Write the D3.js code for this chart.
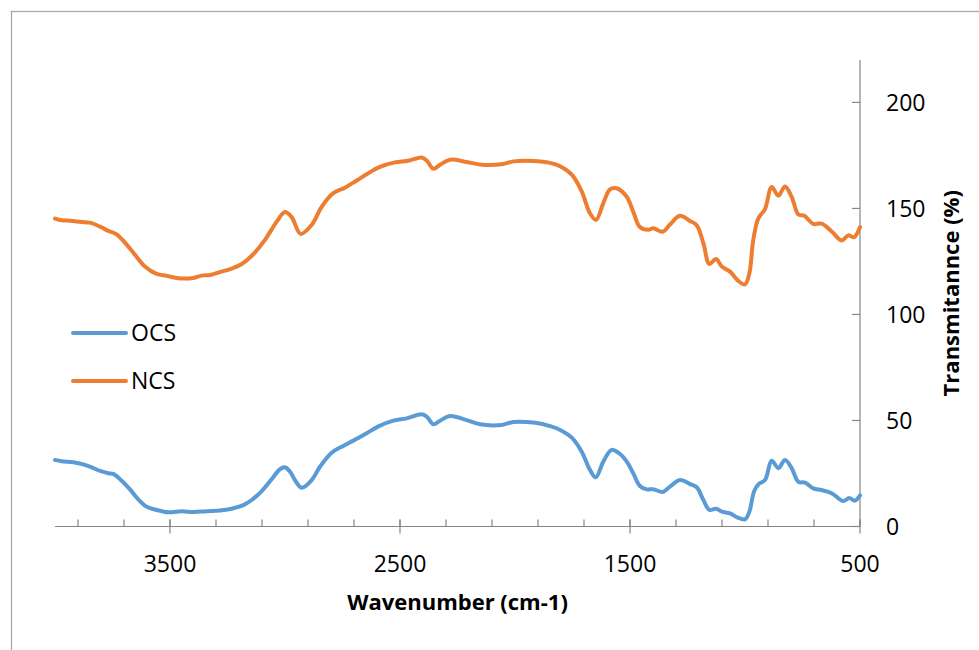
<!DOCTYPE html>
<html>
<head>
<meta charset="utf-8">
<script src="https://cdn.jsdelivr.net/npm/d3@7"></script>
<style>
  body { margin: 0; background: #fff; }
  text { font-family: "Open Sans", "Noto Sans", sans-serif; fill: #000; }
</style>
</head>
<body>
<div id="chart"></div>
<script>
// Data (wavenumber in cm-1, transmittance in %)
const ncsWave = [4000, 3971, 3935, 3884, 3848, 3804, 3768, 3732, 3696, 3652, 3609, 3558, 3514, 3464, 3399, 3362, 3326, 3283, 3225, 3188, 3138, 3087, 3036, 3000, 2971, 2932, 2884, 2840, 2790, 2739, 2688, 2638, 2590, 2522, 2464, 2406, 2384, 2355, 2326, 2283, 2210, 2145, 2051, 2007, 1920, 1848, 1804, 1753, 1710, 1674, 1648, 1616, 1587, 1558, 1515, 1486, 1457, 1420, 1399, 1358, 1326, 1283, 1239, 1210, 1181, 1155, 1126, 1101, 1065, 1029, 1000, 981, 964, 942, 913, 884, 855, 826, 797, 768, 743, 703, 667, 623, 580, 551, 526, 500];
const ncsT = [145.2, 144.4, 144.2, 143.6, 143.3, 141.4, 139.4, 137.8, 133.9, 128.1, 122.6, 119.1, 118.2, 117.1, 117.2, 118.3, 118.6, 120.0, 121.9, 123.8, 128.4, 135.2, 143.8, 148.3, 145.9, 138.0, 142.2, 150.9, 157.2, 159.8, 163.2, 166.6, 169.5, 171.7, 172.5, 174.0, 172.6, 168.7, 170.6, 173.0, 171.9, 170.6, 171.0, 172.2, 172.4, 171.5, 169.9, 165.9, 158.0, 147.7, 144.6, 152.5, 159.0, 159.5, 155.6, 148.5, 141.2, 139.9, 140.7, 139.0, 142.4, 146.5, 144.1, 142.1, 133.6, 123.8, 126.2, 122.6, 120.2, 115.8, 114.2, 119.4, 135.2, 145.3, 149.7, 160.1, 156.0, 160.4, 155.4, 147.1, 146.6, 142.7, 142.8, 139.1, 134.9, 137.3, 136.4, 141.2];

const ocsWave = [4000, 3971, 3920, 3877, 3840, 3804, 3768, 3747, 3710, 3674, 3638, 3601, 3558, 3507, 3449, 3399, 3340, 3283, 3232, 3181, 3145, 3101, 3058, 3022, 3000, 2978, 2952, 2927, 2884, 2848, 2797, 2747, 2703, 2645, 2594, 2529, 2471, 2406, 2384, 2355, 2326, 2283, 2210, 2152, 2058, 2007, 1920, 1840, 1797, 1753, 1710, 1674, 1649, 1616, 1580, 1551, 1514, 1486, 1457, 1427, 1399, 1358, 1326, 1283, 1239, 1210, 1181, 1155, 1126, 1101, 1065, 1034, 1000, 981, 961, 942, 913, 884, 855, 826, 797, 768, 739, 703, 667, 623, 573, 547, 522, 500];
const ocsT = [31.4, 30.8, 30.3, 29.3, 27.9, 26.2, 25.1, 24.8, 21.6, 17.5, 12.8, 9.3, 7.8, 6.7, 7.2, 6.8, 7.2, 7.5, 8.4, 10.1, 12.5, 16.7, 22.3, 27.0, 27.9, 25.8, 21.1, 18.3, 21.9, 28.2, 34.8, 38.0, 40.5, 44.0, 47.2, 49.9, 51.0, 52.9, 51.8, 48.2, 49.9, 52.1, 50.2, 48.2, 47.9, 49.3, 49.0, 47.1, 45.2, 41.9, 35.3, 26.7, 23.2, 30.6, 36.1, 34.8, 30.6, 25.1, 19.1, 17.5, 17.6, 16.3, 18.8, 21.9, 20.0, 18.5, 12.5, 7.8, 8.4, 7.0, 6.2, 4.3, 3.4, 7.0, 16.4, 19.9, 21.9, 31.0, 27.5, 31.4, 27.5, 21.1, 20.7, 18.0, 17.2, 15.7, 12.0, 13.4, 12.2, 14.7];

const seriesNames = ["OCS", "NCS"];
const seriesColors = ["#5B9BD5", "#ED7D31"];
const xTicks = [3500, 2500, 1500, 500];
const xMinorTicks = d3.range(500, 4000, 200);
const yTicks = [0, 50, 100, 150, 200];

// Chart size
const W = 979, H = 650;
const plot = { left: 55, right: 860, top: 60, bottom: 526.5 };

const svg = d3.select("#chart")
    .append("svg")
    .attr("width", W)
    .attr("height", H);

// Outer chart border
svg.append("rect")
    .attr("x", 11.5)
    .attr("y", 11.5)
    .attr("width", W)
    .attr("height", H)
    .attr("fill", "none")
    .attr("stroke", "#a9a9a9")
    .attr("stroke-width", 1.3);

// Scales (x reversed like an IR spectrum)
const x = d3.scaleLinear().domain([4000, 500]).range([plot.left, plot.right]);
const y = d3.scaleLinear().domain([0, 220]).range([plot.bottom, plot.top]);

const axisColor = "#868686";

// X axis: minor ticks inside, major ticks crossing
const xAxis = svg.append("g").attr("transform", `translate(0,${plot.bottom})`);
xAxis.append("line")
    .attr("x1", plot.left).attr("x2", plot.right)
    .attr("stroke", axisColor).attr("stroke-width", 1.2);
xAxis.selectAll(".minor")
    .data(xMinorTicks)
    .enter()
    .append("line")
    .attr("x1", d => x(d)).attr("x2", d => x(d))
    .attr("y1", -7).attr("y2", 0)
    .attr("stroke", axisColor).attr("stroke-width", 1.2);
xAxis.selectAll(".major")
    .data(xTicks)
    .enter()
    .append("line")
    .attr("x1", d => x(d)).attr("x2", d => x(d))
    .attr("y1", -7).attr("y2", 7)
    .attr("stroke", axisColor).attr("stroke-width", 1.2);
xAxis.selectAll(".xlabel")
    .data(xTicks)
    .enter()
    .append("text")
    .attr("x", d => x(d))
    .attr("y", 45)
    .attr("text-anchor", "middle")
    .style("font-size", "23px")
    .text(d => d);

// Y axis on the right
const yAxis = svg.append("g").attr("transform", `translate(${plot.right},0)`);
yAxis.append("line")
    .attr("y1", plot.top).attr("y2", plot.bottom)
    .attr("stroke", axisColor).attr("stroke-width", 1.2);
yAxis.selectAll(".ytick")
    .data(yTicks)
    .enter()
    .append("line")
    .attr("x1", -8).attr("x2", 0)
    .attr("y1", d => y(d)).attr("y2", d => y(d))
    .attr("stroke", axisColor).attr("stroke-width", 1.2);
yAxis.selectAll(".ylabel")
    .data(yTicks)
    .enter()
    .append("text")
    .attr("x", 26)
    .attr("y", d => y(d))
    .attr("dy", "0.36em")
    .style("font-size", "23px")
    .text(d => d);

// Axis titles
svg.append("text")
    .attr("x", (plot.left + plot.right) / 2)
    .attr("y", 610)
    .attr("text-anchor", "middle")
    .style("font-size", "22px")
    .style("font-weight", "bold")
    .text("Wavenumber (cm-1)");

svg.append("text")
    .attr("transform", `translate(959,${(plot.top + plot.bottom) / 2}) rotate(-90)`)
    .attr("text-anchor", "middle")
    .style("font-size", "22px")
    .style("font-weight", "bold")
    .text("Transmitannce (%)");

// Lines
const line = d3.line()
    .x(d => x(d[0]))
    .y(d => y(d[1]))
    .curve(d3.curveCatmullRom.alpha(0.5));

const series = [
    d3.zip(ocsWave, ocsT),
    d3.zip(ncsWave, ncsT)
];

svg.selectAll(".series")
    .data(series)
    .enter()
    .append("path")
    .attr("d", line)
    .attr("fill", "none")
    .attr("stroke", (d, i) => seriesColors[i])
    .attr("stroke-width", 4)
    .attr("stroke-linejoin", "round")
    .attr("stroke-linecap", "round");

// Legend
const legend = svg.selectAll(".legend")
    .data(seriesNames)
    .enter()
    .append("g")
    .attr("transform", (d, i) => `translate(73,${333 + i * 48})`);
legend.append("line")
    .attr("x1", 0).attr("x2", 53)
    .attr("stroke", (d, i) => seriesColors[i])
    .attr("stroke-width", 4)
    .attr("stroke-linecap", "round");
legend.append("text")
    .attr("x", 58)
    .attr("y", 8)
    .style("font-size", "23px")
    .text(d => d);
</script>
</body>
</html>
